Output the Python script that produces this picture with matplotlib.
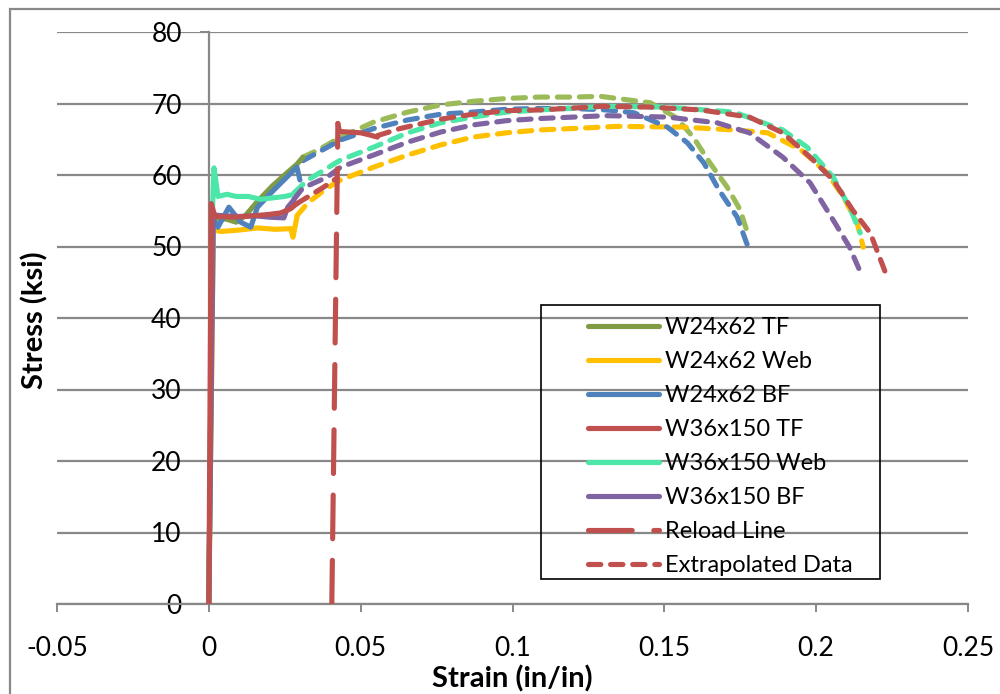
import matplotlib
matplotlib.use('Agg')
import matplotlib.pyplot as plt
from matplotlib.lines import Line2D
from matplotlib.patches import Rectangle

plt.rcParams['font.family'] = ['Lato', 'DejaVu Sans']

# datos (deformacion in/in, esfuerzo ksi)
tf24_x = [0, 0.0012, 0.003, 0.006, 0.009, 0.012, 0.016, 0.021, 0.026, 0.029, 0.031]
tf24_y = [0, 53.0, 54.0, 53.8, 53.4, 54.3, 56.3, 58.5, 60.4, 61.5, 62.5]
tf24_ex = [0.031, 0.036, 0.0434, 0.0543, 0.0655, 0.0763, 0.087, 0.098, 0.109, 0.12,
           0.129, 0.1345, 0.1454, 0.154, 0.1595, 0.165, 0.1707, 0.175, 0.1776]
tf24_ey = [62.5, 63.5, 65.3, 67.4, 68.8, 69.8, 70.3, 70.7, 70.9, 70.9,
           71.0, 70.7, 70.1, 68.0, 65.3, 61.7, 58.3, 55.1, 51.6]

web24_x = [0, 0.0015, 0.004, 0.01, 0.016, 0.022, 0.027, 0.0277, 0.0285, 0.029]
web24_y = [0, 52.3, 52.1, 52.3, 52.6, 52.4, 52.5, 51.3, 53.0, 54.1]
web24_ex = [0.029, 0.0326, 0.039, 0.0434, 0.0543, 0.0655, 0.0763, 0.087, 0.098, 0.109,
            0.12, 0.1345, 0.156, 0.173, 0.184, 0.195, 0.2036, 0.209, 0.2135, 0.2155]
web24_ey = [54.3, 56.1, 58.2, 59.3, 61.1, 62.8, 64.2, 65.3, 65.9, 66.3,
            66.5, 66.8, 66.7, 66.3, 65.9, 63.5, 60.3, 56.9, 53.3, 49.9]

bf24_x = [0, 0.0012, 0.003, 0.0066, 0.0105, 0.0138, 0.016, 0.0214, 0.029, 0.030]
bf24_y = [0, 54.0, 52.7, 55.5, 53.4, 52.7, 55.5, 57.9, 61.1, 59.3]
bf24_ex = [0.031, 0.0434, 0.0543, 0.0655, 0.0763, 0.087, 0.098, 0.109, 0.12, 0.131,
           0.14, 0.151, 0.1576, 0.163, 0.168, 0.174, 0.1776]
bf24_ey = [62.0, 64.9, 66.5, 67.7, 68.5, 68.8, 69.2, 69.3, 69.3, 69.1,
           68.7, 66.7, 64.5, 61.7, 57.9, 54.1, 49.9]

tf36_x = [0, 0.0008, 0.002, 0.008, 0.015, 0.02, 0.0237, 0.027, 0.029]
tf36_y = [0, 56.0, 54.2, 54.1, 54.3, 54.5, 54.7, 55.3, 56.0]
tf36_ex1 = [0.029, 0.0378, 0.0423]
tf36_ey1 = [56.0, 58.3, 59.6]
tf36_x2 = [0.0425, 0.043, 0.046, 0.05, 0.053, 0.0555]
tf36_y2 = [67.2, 66.1, 66.0, 65.9, 65.6, 65.3]
tf36_ex2 = [0.0555, 0.063, 0.0763, 0.087, 0.098, 0.109, 0.1257, 0.129, 0.145, 0.162,
            0.178, 0.189, 0.198, 0.2056, 0.212, 0.2178, 0.2234]
tf36_ey2 = [65.5, 66.5, 67.8, 68.5, 69.0, 69.1, 69.5, 69.6, 69.5, 69.1,
            68.1, 65.9, 62.5, 59.3, 55.1, 51.9, 45.7]
reload_x = [0.0405, 0.0425]
reload_y = [0, 67.2]

web36_x = [0, 0.0012, 0.0017, 0.003, 0.006, 0.009, 0.013, 0.017, 0.021, 0.025, 0.027]
web36_y = [0, 55.0, 61.0, 57.0, 57.3, 57.0, 57.0, 56.6, 56.8, 57.0, 57.2]
web36_ex = [0.028, 0.0326, 0.0434, 0.0543, 0.0655, 0.0763, 0.087, 0.098, 0.109, 0.131,
            0.15, 0.173, 0.189, 0.197, 0.2056, 0.211, 0.2145]
web36_ey = [57.5, 59.3, 62.1, 63.9, 65.9, 67.3, 68.1, 68.8, 69.1, 69.6,
            69.5, 68.8, 66.3, 63.9, 59.7, 55.5, 51.9]

bf36_x = [0, 0.0015, 0.005, 0.01, 0.015, 0.02, 0.0247, 0.026, 0.028]
bf36_y = [0, 54.4, 54.3, 54.2, 54.3, 54.1, 54.0, 55.5, 56.5]
bf36_ex = [0.028, 0.031, 0.039, 0.0434, 0.0543, 0.0655, 0.0763, 0.087, 0.098, 0.109,
           0.131, 0.151, 0.1674, 0.178, 0.189, 0.198, 0.2056, 0.211, 0.215]
bf36_ey = [56.6, 58.2, 59.7, 61.1, 62.8, 64.6, 66.0, 67.0, 67.6, 67.9,
           68.3, 68.1, 67.3, 65.9, 62.5, 58.9, 53.7, 49.9, 46.0]

etiquetas = ['W24x62 TF', 'W24x62 Web', 'W24x62 BF', 'W36x150 TF', 'W36x150 Web',
             'W36x150 BF', 'Reload Line', 'Extrapolated Data']

verde, verde_ex = '#7F9C45', '#9BBB59'
amarillo = '#FFC000'
azul = '#4F81BD'
rojo = '#C0504D'
turquesa = '#4CE6A8'
morado = '#8064A2'
gris = '#888888'

LW = 3.7
corto = (0, (2.4, 1.9))
largo = (0, (8.5, 4.2))

fig = plt.figure(figsize=(10, 6.94), dpi=100)
ax = fig.add_axes([0.057, 1 - 604 / 694, 0.911, (604 - 32) / 694])


def dibujar(x, y, color, estilo='-'):
    ax.plot(x, y, color=color, lw=LW, linestyle=estilo,
            dash_capstyle='round', solid_capstyle='round', zorder=3)


# curvas extrapoladas
dibujar(tf24_ex, tf24_ey, verde_ex, corto)
dibujar(web24_ex, web24_ey, amarillo, corto)
dibujar(bf24_ex, bf24_ey, azul, corto)
dibujar(web36_ex, web36_ey, turquesa, corto)
dibujar(bf36_ex, bf36_ey, morado, corto)
dibujar(tf36_ex1, tf36_ey1, rojo, corto)
dibujar(tf36_ex2, tf36_ey2, rojo, corto)

# datos de ensayo
dibujar(tf24_x, tf24_y, verde)
dibujar(web24_x, web24_y, amarillo)
dibujar(bf24_x, bf24_y, azul)
dibujar(web36_x, web36_y, turquesa)
dibujar(bf36_x, bf36_y, morado)
dibujar(tf36_x, tf36_y, rojo)
dibujar(tf36_x2, tf36_y2, rojo)
dibujar(reload_x, reload_y, rojo, largo)

ax.set_xlim(-0.05, 0.25)
ax.set_ylim(0, 80)
ax.set_xticks([-0.05, 0, 0.05, 0.1, 0.15, 0.2, 0.25])
ax.set_xticklabels(['-0.05', '0', '0.05', '0.1', '0.15', '0.2', '0.25'])
ax.set_yticks(range(0, 81, 10))
ax.yaxis.grid(True, color=gris, lw=1.6)
ax.set_axisbelow(True)
for s in ['top', 'right']:
    ax.spines[s].set_visible(False)
ax.spines['left'].set_position(('data', 0))
ax.spines['left'].set_color(gris)
ax.spines['left'].set_linewidth(1.6)
ax.spines['bottom'].set_color(gris)
ax.spines['bottom'].set_linewidth(1.6)
ax.tick_params(axis='x', direction='out', length=6, width=1.4, color=gris,
               labelsize=19, pad=17)
ax.tick_params(axis='y', direction='out', length=6.5, width=1.4, color=gris,
               labelsize=19, pad=13)

fig.text(35 / 1000, 1 - 320 / 694, 'Stress (ksi)', rotation=90, fontsize=21,
         fontweight='bold', ha='center', va='center')
fig.text(512 / 1000, 1 - 679 / 694, 'Strain (in/in)', fontsize=21,
         fontweight='bold', ha='center', va='center')

# leyenda
colores = [verde, amarillo, azul, rojo, turquesa, morado, rojo, rojo]
estilos = ['-'] * 6 + [largo, corto]
manijas = [Line2D([0], [0], color=c, lw=LW, linestyle=e, dash_capstyle='round',
                  solid_capstyle='round') for c, e in zip(colores, estilos)]
fig.legend(manijas, etiquetas, loc='upper left',
           bbox_to_anchor=(569 / 1000, 1 - 298 / 694), frameon=False,
           fontsize=17, handlelength=3.0, handletextpad=0.25, labelspacing=0.55,
           borderpad=0.3)
fig.add_artist(Rectangle((541 / 1000, 1 - 579 / 694), 339 / 1000, 274 / 694,
                         transform=fig.transFigure, fill=False, edgecolor='black',
                         lw=1.2, zorder=5))

# marco del area del grafico
fig.add_artist(Rectangle((10 / 1000, -0.1), 1.2, 1 - 9 / 694 + 0.1,
                         transform=fig.transFigure, fill=False, edgecolor=gris,
                         lw=1.6))

fig.savefig('out.png', dpi=100)
